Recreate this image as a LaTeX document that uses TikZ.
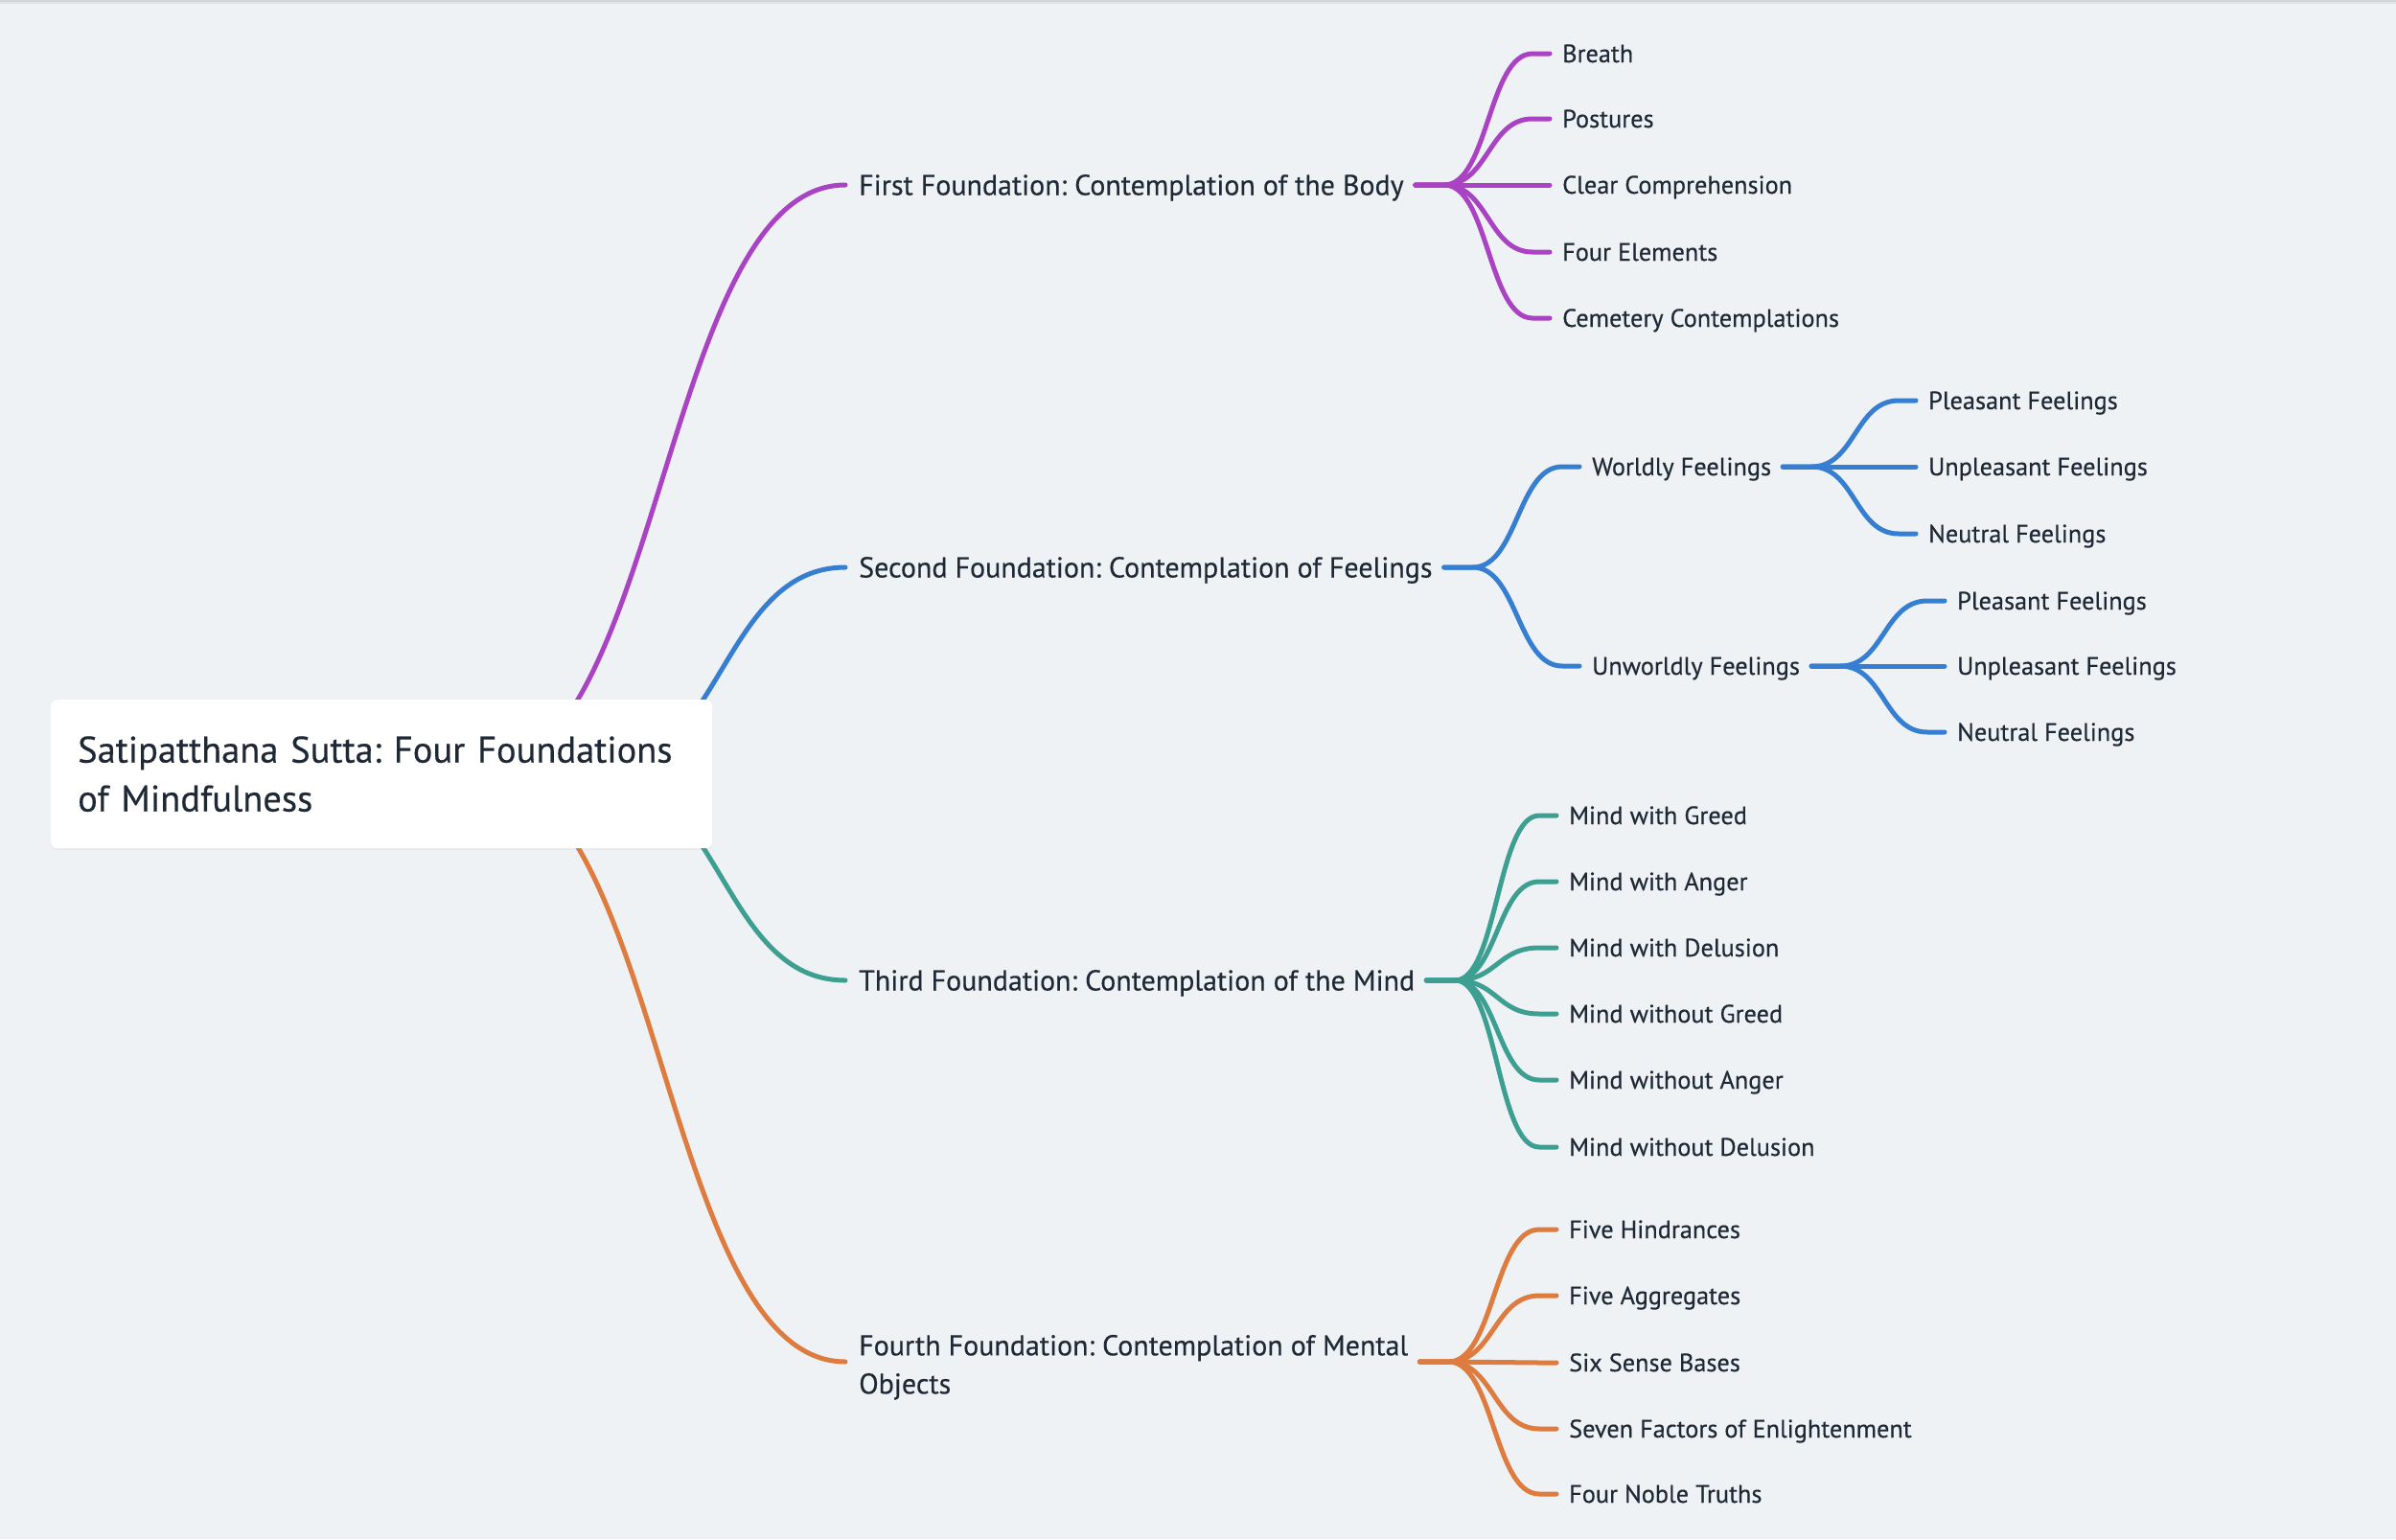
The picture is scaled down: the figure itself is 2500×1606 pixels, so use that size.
\documentclass[tikz,border=0pt]{standalone}
\usepackage{fontspec}
\setmainfont{PT Sans}[FakeBold=0.35]
\usetikzlibrary{calc,shadows}
\definecolor{bgc}{HTML}{EEF2F5}
\definecolor{cPur}{HTML}{A943C3}
\definecolor{cBlu}{HTML}{367ED1}
\definecolor{cTea}{HTML}{3D9E92}
\definecolor{cOra}{HTML}{DE7B3E}
\definecolor{ink}{HTML}{1F2935}
\pgfdeclarelayer{back}
\pgfdeclarelayer{links}
\pgfsetlayers{back,links,main}
\frenchspacing
\tikzset{
  link/.style={line width=5pt, line cap=round, line join=round},
  lone/.style={anchor=west, inner sep=0pt, text=ink, font=\fontsize{30}{40}\selectfont, text height=21pt, text depth=0pt},
  lonetwo/.style={anchor=west, inner sep=0pt, text=ink, align=left, font=\fontsize{30}{40}\selectfont},
  ltwo/.style={anchor=west, inner sep=0pt, text=ink, font=\fontsize{26.3}{30}\selectfont, text height=18pt, text depth=0pt},
  rootbox/.style={anchor=north west, fill=white, rounded corners=7pt, minimum width=690pt, minimum height=155pt,
    inner xsep=28pt, inner ysep=0pt, text width=634pt, align=left, text=ink, font=\fontsize{38.5}{51}\selectfont,
    drop shadow={opacity=0.06, shadow xshift=0pt, shadow yshift=-2pt}}
}
\newcommand\mmlink[3]{\draw[link,#3] let \p1=($(#1.east)+(12pt,0pt)$), \p2=($(#2.west)-(13pt,0pt)$) in
  (\p1) -- (\x1+30pt,\y1) .. controls ({(\x1+\x2+12pt)/2},\y1) and ({(\x1+\x2+12pt)/2},\y2) .. (\x2-18pt,\y2) -- (\p2);}
\newcommand\mmroot[3]{\draw[link,#3] let \p1=(#1), \p2=($(#2.west)-(14pt,0pt)$) in
  (\p1) .. controls ({(\x1+\x2)/2},\y1) and ({(\x1+\x2)/2},\y2) .. (\p2);}
\begin{document}
\begin{tikzpicture}[x=1pt,y=-1pt]
\useasboundingbox (0,0) rectangle (2500,1606);
\begin{pgfonlayer}{back}
\fill[bgc] (0,0) rectangle (2500,1606);
\fill[black!12!bgc] (0,0) rectangle (2500,2);
\fill[black!6!bgc] (0,2) rectangle (2500,4);
\end{pgfonlayer}

% root
\node[rootbox] (root) at (53,730) {Satipatthana Sutta: Four Foundations\\of Mindfulness};
\coordinate (ra) at ($(root.north west)+(447pt,-77pt)$);
\coordinate (rb) at ($(root.north west)+(570pt,-77pt)$);

% level 1
\node[lone] (f1) at (896,193) {First Foundation: Contemplation of the Body};
\node[lone] (f2) at (896,592) {Second Foundation: Contemplation of Feelings};
\node[lone] (f3) at (896,1023) {Third Foundation: Contemplation of the Mind};
\node[lonetwo] (f4) at (896,1421) {\rule{0pt}{33pt}Fourth Foundation: Contemplation of Mental\\Objects};

% first foundation children
\node[ltwo] (b1) at (1630,56) {Breath};
\node[ltwo] (b2) at (1630,124) {Postures};
\node[ltwo] (b3) at (1630,193) {Clear Comprehension};
\node[ltwo] (b4) at (1630,263) {Four Elements};
\node[ltwo] (b5) at (1630,332) {Cemetery Contemplations};

% second foundation
\node[ltwo] (w) at (1661,487) {Worldly Feelings};
\node[ltwo] (u) at (1661,695) {Unworldly Feelings};
\node[ltwo] (w1) at (2012,418) {Pleasant Feelings};
\node[ltwo] (w2) at (2012,487) {Unpleasant Feelings};
\node[ltwo] (w3) at (2012,557) {Neutral Feelings};
\node[ltwo] (u1) at (2042,627) {Pleasant Feelings};
\node[ltwo] (u2) at (2042,695) {Unpleasant Feelings};
\node[ltwo] (u3) at (2042,764) {Neutral Feelings};

% third foundation
\node[ltwo] (m1) at (1637,851) {Mind with Greed};
\node[ltwo] (m2) at (1637,920) {Mind with Anger};
\node[ltwo] (m3) at (1637,989) {Mind with Delusion};
\node[ltwo] (m4) at (1637,1058) {Mind without Greed};
\node[ltwo] (m5) at (1637,1127) {Mind without Anger};
\node[ltwo] (m6) at (1637,1197) {Mind without Delusion};

% fourth foundation
\node[ltwo] (o1) at (1637,1283) {Five Hindrances};
\node[ltwo] (o2) at (1637,1352) {Five Aggregates};
\node[ltwo] (o3) at (1637,1422) {Six Sense Bases};
\node[ltwo] (o4) at (1637,1491) {Seven Factors of Enlightenment};
\node[ltwo] (o5) at (1637,1559) {Four Noble Truths};

\begin{pgfonlayer}{links}
\mmroot{ra}{f1}{cPur}
\mmroot{rb}{f2}{cBlu}
\mmroot{rb}{f3}{cTea}
\mmroot{ra}{f4}{cOra}
\foreach \c in {b1,b2,b3,b4,b5}{\mmlink{f1}{\c}{cPur}}
\foreach \c in {w,u}{\mmlink{f2}{\c}{cBlu}}
\foreach \c in {w1,w2,w3}{\mmlink{w}{\c}{cBlu}}
\foreach \c in {u1,u2,u3}{\mmlink{u}{\c}{cBlu}}
\foreach \c in {m1,m2,m3,m4,m5,m6}{\mmlink{f3}{\c}{cTea}}
\foreach \c in {o1,o2,o3,o4,o5}{\mmlink{f4}{\c}{cOra}}
\end{pgfonlayer}
\end{tikzpicture}
\end{document}
